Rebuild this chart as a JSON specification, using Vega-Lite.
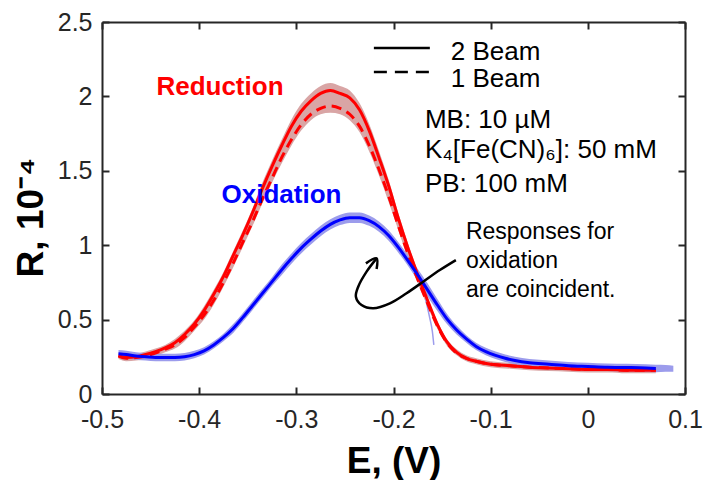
{
  "$schema": "https://vega.github.io/schema/vega-lite/v6.json",
  "width": 583,
  "height": 372,
  "autosize": {"type": "none"},
  "padding": {"left": 102, "top": 22, "right": 19, "bottom": 86},
  "config": {"font": "Liberation Sans", "view": {"stroke": null}},
  "datasets": {
    "red2": [
      {"E": -0.483, "R": 0.26}, {"E": -0.475, "R": 0.245}, {"E": -0.465, "R": 0.25}, {"E": -0.455, "R": 0.265},
      {"E": -0.445, "R": 0.285}, {"E": -0.435, "R": 0.31}, {"E": -0.425, "R": 0.345}, {"E": -0.415, "R": 0.4},
      {"E": -0.405, "R": 0.47}, {"E": -0.395, "R": 0.56}, {"E": -0.385, "R": 0.67}, {"E": -0.375, "R": 0.79},
      {"E": -0.365, "R": 0.93}, {"E": -0.355, "R": 1.07}, {"E": -0.345, "R": 1.22}, {"E": -0.335, "R": 1.38},
      {"E": -0.325, "R": 1.53}, {"E": -0.315, "R": 1.67}, {"E": -0.305, "R": 1.8}, {"E": -0.295, "R": 1.9},
      {"E": -0.285, "R": 1.97}, {"E": -0.275, "R": 2.02}, {"E": -0.265, "R": 2.04}, {"E": -0.255, "R": 2.02},
      {"E": -0.245, "R": 1.99}, {"E": -0.235, "R": 1.91}, {"E": -0.225, "R": 1.77}, {"E": -0.215, "R": 1.59},
      {"E": -0.205, "R": 1.4}, {"E": -0.195, "R": 1.18}, {"E": -0.185, "R": 0.98}, {"E": -0.175, "R": 0.8},
      {"E": -0.165, "R": 0.63}, {"E": -0.155, "R": 0.47}, {"E": -0.145, "R": 0.35}, {"E": -0.135, "R": 0.28},
      {"E": -0.125, "R": 0.24}, {"E": -0.115, "R": 0.22}, {"E": -0.1, "R": 0.2}, {"E": -0.08, "R": 0.19},
      {"E": -0.06, "R": 0.18}, {"E": -0.04, "R": 0.175}, {"E": -0.02, "R": 0.17}, {"E": 0.0, "R": 0.165},
      {"E": 0.02, "R": 0.165}, {"E": 0.04, "R": 0.16}, {"E": 0.06, "R": 0.16}, {"E": 0.07, "R": 0.16}
    ],
    "red1": [
      {"E": -0.483, "R": 0.255}, {"E": -0.475, "R": 0.24}, {"E": -0.465, "R": 0.245}, {"E": -0.455, "R": 0.255},
      {"E": -0.445, "R": 0.275}, {"E": -0.435, "R": 0.3}, {"E": -0.425, "R": 0.33}, {"E": -0.415, "R": 0.38},
      {"E": -0.405, "R": 0.45}, {"E": -0.395, "R": 0.53}, {"E": -0.385, "R": 0.63}, {"E": -0.375, "R": 0.75},
      {"E": -0.365, "R": 0.88}, {"E": -0.355, "R": 1.02}, {"E": -0.345, "R": 1.16}, {"E": -0.335, "R": 1.31},
      {"E": -0.325, "R": 1.45}, {"E": -0.315, "R": 1.59}, {"E": -0.305, "R": 1.71}, {"E": -0.295, "R": 1.81},
      {"E": -0.285, "R": 1.88}, {"E": -0.275, "R": 1.92}, {"E": -0.265, "R": 1.935}, {"E": -0.255, "R": 1.92},
      {"E": -0.245, "R": 1.88}, {"E": -0.235, "R": 1.8}, {"E": -0.225, "R": 1.67}, {"E": -0.215, "R": 1.51},
      {"E": -0.205, "R": 1.33}, {"E": -0.195, "R": 1.13}, {"E": -0.185, "R": 0.94}, {"E": -0.175, "R": 0.77},
      {"E": -0.165, "R": 0.61}, {"E": -0.155, "R": 0.46}, {"E": -0.145, "R": 0.345}, {"E": -0.135, "R": 0.275},
      {"E": -0.125, "R": 0.24}, {"E": -0.115, "R": 0.22}, {"E": -0.1, "R": 0.2}, {"E": -0.08, "R": 0.19},
      {"E": -0.06, "R": 0.18}, {"E": -0.04, "R": 0.175}, {"E": -0.02, "R": 0.17}, {"E": 0.0, "R": 0.165},
      {"E": 0.02, "R": 0.165}, {"E": 0.04, "R": 0.16}, {"E": 0.06, "R": 0.16}, {"E": 0.07, "R": 0.16}
    ],
    "blue": [
      {"E": -0.483, "R": 0.27}, {"E": -0.475, "R": 0.265}, {"E": -0.465, "R": 0.255}, {"E": -0.455, "R": 0.25},
      {"E": -0.445, "R": 0.245}, {"E": -0.435, "R": 0.245}, {"E": -0.425, "R": 0.245}, {"E": -0.415, "R": 0.25},
      {"E": -0.405, "R": 0.265}, {"E": -0.395, "R": 0.29}, {"E": -0.385, "R": 0.33}, {"E": -0.375, "R": 0.38},
      {"E": -0.365, "R": 0.44}, {"E": -0.355, "R": 0.515}, {"E": -0.345, "R": 0.595}, {"E": -0.335, "R": 0.675},
      {"E": -0.325, "R": 0.755}, {"E": -0.315, "R": 0.835}, {"E": -0.305, "R": 0.91}, {"E": -0.295, "R": 0.98},
      {"E": -0.285, "R": 1.04}, {"E": -0.275, "R": 1.095}, {"E": -0.265, "R": 1.14}, {"E": -0.255, "R": 1.17},
      {"E": -0.245, "R": 1.185}, {"E": -0.235, "R": 1.185}, {"E": -0.225, "R": 1.165}, {"E": -0.215, "R": 1.125},
      {"E": -0.205, "R": 1.065}, {"E": -0.195, "R": 0.985}, {"E": -0.185, "R": 0.895}, {"E": -0.175, "R": 0.8},
      {"E": -0.165, "R": 0.7}, {"E": -0.155, "R": 0.6}, {"E": -0.145, "R": 0.505}, {"E": -0.135, "R": 0.43},
      {"E": -0.125, "R": 0.37}, {"E": -0.115, "R": 0.32}, {"E": -0.105, "R": 0.285}, {"E": -0.095, "R": 0.26},
      {"E": -0.085, "R": 0.24}, {"E": -0.075, "R": 0.225}, {"E": -0.06, "R": 0.21}, {"E": -0.04, "R": 0.2},
      {"E": -0.02, "R": 0.19}, {"E": 0.0, "R": 0.185}, {"E": 0.02, "R": 0.18}, {"E": 0.04, "R": 0.178},
      {"E": 0.06, "R": 0.175}, {"E": 0.07, "R": 0.172}
    ],
    "redband": [
      {"E": -0.483, "R": 0.235, "R2": 0.28}, {"E": -0.475, "R": 0.22, "R2": 0.265}, {"E": -0.465, "R": 0.225, "R2": 0.27},
      {"E": -0.455, "R": 0.235, "R2": 0.285}, {"E": -0.445, "R": 0.255, "R2": 0.305}, {"E": -0.435, "R": 0.28, "R2": 0.33},
      {"E": -0.425, "R": 0.305, "R2": 0.37}, {"E": -0.415, "R": 0.355, "R2": 0.425}, {"E": -0.405, "R": 0.425, "R2": 0.495},
      {"E": -0.395, "R": 0.5, "R2": 0.59}, {"E": -0.385, "R": 0.6, "R2": 0.7}, {"E": -0.375, "R": 0.72, "R2": 0.82},
      {"E": -0.365, "R": 0.85, "R2": 0.96}, {"E": -0.355, "R": 0.99, "R2": 1.1}, {"E": -0.345, "R": 1.13, "R2": 1.25},
      {"E": -0.335, "R": 1.28, "R2": 1.42}, {"E": -0.325, "R": 1.42, "R2": 1.57}, {"E": -0.315, "R": 1.55, "R2": 1.71},
      {"E": -0.305, "R": 1.67, "R2": 1.845}, {"E": -0.295, "R": 1.77, "R2": 1.95}, {"E": -0.285, "R": 1.84, "R2": 2.02},
      {"E": -0.275, "R": 1.88, "R2": 2.07}, {"E": -0.265, "R": 1.89, "R2": 2.09}, {"E": -0.255, "R": 1.88, "R2": 2.07},
      {"E": -0.245, "R": 1.84, "R2": 2.04}, {"E": -0.235, "R": 1.76, "R2": 1.955}, {"E": -0.225, "R": 1.63, "R2": 1.815},
      {"E": -0.215, "R": 1.47, "R2": 1.635}, {"E": -0.205, "R": 1.29, "R2": 1.44}, {"E": -0.195, "R": 1.1, "R2": 1.215},
      {"E": -0.185, "R": 0.91, "R2": 1.01}, {"E": -0.175, "R": 0.745, "R2": 0.825}, {"E": -0.165, "R": 0.59, "R2": 0.65},
      {"E": -0.155, "R": 0.44, "R2": 0.49}, {"E": -0.145, "R": 0.325, "R2": 0.37}, {"E": -0.135, "R": 0.26, "R2": 0.3},
      {"E": -0.125, "R": 0.22, "R2": 0.26}, {"E": -0.115, "R": 0.2, "R2": 0.24}, {"E": -0.1, "R": 0.18, "R2": 0.22},
      {"E": -0.08, "R": 0.17, "R2": 0.21}, {"E": -0.06, "R": 0.16, "R2": 0.2}, {"E": -0.04, "R": 0.155, "R2": 0.195},
      {"E": -0.02, "R": 0.15, "R2": 0.19}, {"E": 0.0, "R": 0.145, "R2": 0.185}, {"E": 0.02, "R": 0.145, "R2": 0.185},
      {"E": 0.04, "R": 0.14, "R2": 0.18}, {"E": 0.06, "R": 0.14, "R2": 0.18}, {"E": 0.07, "R": 0.14, "R2": 0.18}
    ],
    "blueband": [
      {"E": -0.483, "R": 0.245, "R2": 0.295}, {"E": -0.475, "R": 0.24, "R2": 0.29}, {"E": -0.465, "R": 0.23, "R2": 0.28},
      {"E": -0.455, "R": 0.225, "R2": 0.275}, {"E": -0.445, "R": 0.22, "R2": 0.27}, {"E": -0.435, "R": 0.22, "R2": 0.27},
      {"E": -0.425, "R": 0.22, "R2": 0.27}, {"E": -0.415, "R": 0.225, "R2": 0.275}, {"E": -0.405, "R": 0.24, "R2": 0.29},
      {"E": -0.395, "R": 0.265, "R2": 0.315}, {"E": -0.385, "R": 0.305, "R2": 0.355}, {"E": -0.375, "R": 0.355, "R2": 0.405},
      {"E": -0.365, "R": 0.41, "R2": 0.47}, {"E": -0.355, "R": 0.485, "R2": 0.545}, {"E": -0.345, "R": 0.565, "R2": 0.625},
      {"E": -0.335, "R": 0.645, "R2": 0.705}, {"E": -0.325, "R": 0.725, "R2": 0.785}, {"E": -0.315, "R": 0.8, "R2": 0.87},
      {"E": -0.305, "R": 0.875, "R2": 0.945}, {"E": -0.295, "R": 0.945, "R2": 1.015}, {"E": -0.285, "R": 1.005, "R2": 1.075},
      {"E": -0.275, "R": 1.06, "R2": 1.13}, {"E": -0.265, "R": 1.105, "R2": 1.175}, {"E": -0.255, "R": 1.135, "R2": 1.205},
      {"E": -0.245, "R": 1.15, "R2": 1.22}, {"E": -0.235, "R": 1.15, "R2": 1.22}, {"E": -0.225, "R": 1.13, "R2": 1.2},
      {"E": -0.215, "R": 1.09, "R2": 1.16}, {"E": -0.205, "R": 1.03, "R2": 1.1}, {"E": -0.195, "R": 0.95, "R2": 1.02},
      {"E": -0.185, "R": 0.86, "R2": 0.93}, {"E": -0.175, "R": 0.76, "R2": 0.84}, {"E": -0.165, "R": 0.655, "R2": 0.745},
      {"E": -0.155, "R": 0.56, "R2": 0.64}, {"E": -0.145, "R": 0.47, "R2": 0.54}, {"E": -0.135, "R": 0.4, "R2": 0.46},
      {"E": -0.125, "R": 0.345, "R2": 0.395}, {"E": -0.115, "R": 0.295, "R2": 0.345}, {"E": -0.105, "R": 0.26, "R2": 0.31},
      {"E": -0.095, "R": 0.235, "R2": 0.285}, {"E": -0.085, "R": 0.215, "R2": 0.265}, {"E": -0.075, "R": 0.2, "R2": 0.25},
      {"E": -0.06, "R": 0.185, "R2": 0.235}, {"E": -0.04, "R": 0.175, "R2": 0.225}, {"E": -0.02, "R": 0.165, "R2": 0.215},
      {"E": 0.0, "R": 0.16, "R2": 0.21}, {"E": 0.02, "R": 0.155, "R2": 0.205}, {"E": 0.04, "R": 0.153, "R2": 0.203},
      {"E": 0.06, "R": 0.15, "R2": 0.2}, {"E": 0.07, "R": 0.147, "R2": 0.197}, {"E": 0.08, "R": 0.15, "R2": 0.195},
      {"E": 0.088, "R": 0.15, "R2": 0.19}
    ],
    "spike": [
      {"E": -0.167, "R": 0.64}, {"E": -0.163, "R": 0.52}, {"E": -0.16, "R": 0.42}, {"E": -0.1585, "R": 0.33}
    ],
    "legendlines": [
      {"k": "solid", "E": -0.2202, "R": 2.325}, {"k": "solid", "E": -0.1626, "R": 2.325},
      {"k": "dash", "E": -0.2202, "R": 2.164}, {"k": "dash", "E": -0.1626, "R": 2.164}
    ],
    "arrow": [
      {"k": "shaft", "i": 1, "E": -0.1358, "R": 0.9},
      {"k": "shaft", "i": 2, "E": -0.1523, "R": 0.833},
      {"k": "shaft", "i": 3, "E": -0.1694, "R": 0.755},
      {"k": "shaft", "i": 4, "E": -0.1866, "R": 0.677},
      {"k": "shaft", "i": 5, "E": -0.2037, "R": 0.609},
      {"k": "shaft", "i": 6, "E": -0.2209, "R": 0.576},
      {"k": "shaft", "i": 7, "E": -0.2329, "R": 0.598},
      {"k": "shaft", "i": 8, "E": -0.2387, "R": 0.654},
      {"k": "shaft", "i": 9, "E": -0.2363, "R": 0.721},
      {"k": "shaft", "i": 10, "E": -0.2277, "R": 0.822},
      {"k": "shaft", "i": 11, "E": -0.2178, "R": 0.908},
      {"k": "head", "i": 1, "E": -0.2284, "R": 0.878},
      {"k": "head", "i": 2, "E": -0.2174, "R": 0.912},
      {"k": "head", "i": 3, "E": -0.2174, "R": 0.84}
    ],
    "notes": [
      {"k": "red", "t": "Reduction", "E": -0.3786, "R": 2.01},
      {"k": "blue", "t": "Oxidation", "E": -0.3153, "R": 1.284},
      {"k": "legend", "t": "2 Beam", "E": -0.141, "R": 2.245},
      {"k": "legend", "t": "1 Beam", "E": -0.141, "R": 2.063},
      {"k": "info", "t": "MB: 10 µM", "E": -0.1677, "R": 1.788},
      {"k": "info", "t": "K₄[Fe(CN)₆]: 50 mM", "E": -0.1677, "R": 1.586},
      {"k": "info", "t": "PB: 100 mM", "E": -0.1677, "R": 1.358},
      {"k": "resp", "t": "Responses for", "E": -0.1255, "R": 1.042},
      {"k": "resp", "t": "oxidation", "E": -0.1255, "R": 0.847},
      {"k": "resp", "t": "are coincident.", "E": -0.1255, "R": 0.652}
    ]
  },
  "encoding": {
    "x": {"field": "E", "type": "quantitative", "scale": {"domain": [-0.5, 0.1], "nice": false, "zero": false}, "axis": null},
    "y": {"field": "R", "type": "quantitative", "scale": {"domain": [0, 2.5], "nice": false, "zero": false}, "axis": null}
  },
  "layer": [
    {
      "data": {"name": "redband"},
      "mark": {"type": "area", "color": "#d9a5a5", "interpolate": "monotone"},
      "encoding": {
        "x": {"field": "E", "type": "quantitative", "scale": {"domain": [-0.5, 0.1], "nice": false, "zero": false},
          "axis": {"orient": "bottom", "values": [-0.5, -0.4, -0.3, -0.2, -0.1, 0, 0.1], "labelExpr": "'' + datum.value",
            "title": "E, (V)", "grid": false, "domainColor": "#262626", "domainWidth": 2, "tickColor": "#262626", "tickWidth": 2,
            "tickSize": -7, "labelFont": "Liberation Sans", "labelFontSize": 25, "labelColor": "#262626", "labelPadding": 20,
            "labelFlush": false, "labelOverlap": false, "titleFont": "Liberation Sans", "titleFontSize": 37, "titleFontWeight": "bold",
            "titleColor": "#000000", "titleY": 78, "titleBaseline": "alphabetic"}},
        "y": {"field": "R", "type": "quantitative", "scale": {"domain": [0, 2.5], "nice": false, "zero": false},
          "axis": {"orient": "left", "values": [0, 0.5, 1, 1.5, 2, 2.5], "labelExpr": "'' + datum.value",
            "title": "R, 10⁻⁴", "grid": false, "domainColor": "#262626", "domainWidth": 2, "tickColor": "#262626", "tickWidth": 2,
            "tickSize": -7, "labelFont": "Liberation Sans", "labelFontSize": 25, "labelColor": "#262626", "labelPadding": 17,
            "labelFlush": false, "labelOverlap": false, "titleFont": "Liberation Sans", "titleFontSize": 37, "titleFontWeight": "bold",
            "titleColor": "#000000", "titleX": -60, "titleY": 195, "titleAngle": 270, "titleBaseline": "alphabetic", "titleAlign": "center"}},
        "y2": {"field": "R2"}
      }
    },
    {
      "data": {"name": "blueband"},
      "mark": {"type": "area", "color": "#9c9cec", "interpolate": "monotone"},
      "encoding": {"y2": {"field": "R2"}}
    },
    {
      "data": {"name": "spike"},
      "mark": {"type": "line", "color": "#9c9cec", "strokeWidth": 1.5, "interpolate": "monotone"},
      "encoding": {"order": {"field": "R", "sort": "descending"}}
    },
    {
      "data": {"name": "red1"},
      "mark": {"type": "line", "color": "#ff0000", "strokeWidth": 3, "strokeDash": [10, 6], "interpolate": "monotone"},
      "encoding": {}
    },
    {
      "data": {"name": "red2"},
      "mark": {"type": "line", "color": "#ff0000", "strokeWidth": 3, "interpolate": "monotone"},
      "encoding": {}
    },
    {
      "data": {"name": "blue"},
      "mark": {"type": "line", "color": "#0000ff", "strokeWidth": 3, "interpolate": "monotone"},
      "encoding": {}
    },
    {
      "data": {"name": "legendlines"},
      "transform": [{"filter": "datum.k == 'solid'"}],
      "mark": {"type": "line", "color": "#000000", "strokeWidth": 2.5},
      "encoding": {}
    },
    {
      "data": {"name": "legendlines"},
      "transform": [{"filter": "datum.k == 'dash'"}],
      "mark": {"type": "line", "color": "#000000", "strokeWidth": 2.5, "strokeDash": [13, 8]},
      "encoding": {}
    },
    {
      "data": {"name": "arrow"},
      "mark": {"type": "line", "color": "#000000", "strokeWidth": 2.5, "interpolate": "catmull-rom"},
      "encoding": {
        "x": {"field": "E", "type": "quantitative", "scale": {"domain": [-0.5, 0.1], "nice": false, "zero": false},
          "axis": {"orient": "top", "values": [-0.5, -0.4, -0.3, -0.2, -0.1, 0, 0.1], "labels": false, "title": null, "grid": false,
            "domainColor": "#262626", "domainWidth": 2, "tickColor": "#262626", "tickWidth": 2, "tickSize": -7}},
        "y": {"field": "R", "type": "quantitative", "scale": {"domain": [0, 2.5], "nice": false, "zero": false},
          "axis": {"orient": "right", "values": [0, 0.5, 1, 1.5, 2, 2.5], "labels": false, "title": null, "grid": false,
            "domainColor": "#262626", "domainWidth": 2, "tickColor": "#262626", "tickWidth": 2, "tickSize": -7}},
        "detail": {"field": "k"},
        "order": {"field": "i"}
      }
    },
    {
      "data": {"name": "notes"},
      "transform": [{"filter": "datum.k == 'red'"}],
      "mark": {"type": "text", "color": "#ff0000", "font": "Liberation Sans", "fontSize": 26, "fontWeight": "bold", "align": "center", "baseline": "alphabetic"},
      "encoding": {"text": {"field": "t"}}
    },
    {
      "data": {"name": "notes"},
      "transform": [{"filter": "datum.k == 'blue'"}],
      "mark": {"type": "text", "color": "#0000ff", "font": "Liberation Sans", "fontSize": 26, "fontWeight": "bold", "align": "center", "baseline": "alphabetic"},
      "encoding": {"text": {"field": "t"}}
    },
    {
      "data": {"name": "notes"},
      "transform": [{"filter": "datum.k == 'legend' || datum.k == 'info'"}],
      "mark": {"type": "text", "color": "#000000", "font": "Liberation Sans", "fontSize": 26, "align": "left", "baseline": "alphabetic"},
      "encoding": {"text": {"field": "t"}}
    },
    {
      "data": {"name": "notes"},
      "transform": [{"filter": "datum.k == 'resp'"}],
      "mark": {"type": "text", "color": "#000000", "font": "Liberation Sans", "fontSize": 23, "align": "left", "baseline": "alphabetic"},
      "encoding": {"text": {"field": "t"}}
    }
  ]
}
